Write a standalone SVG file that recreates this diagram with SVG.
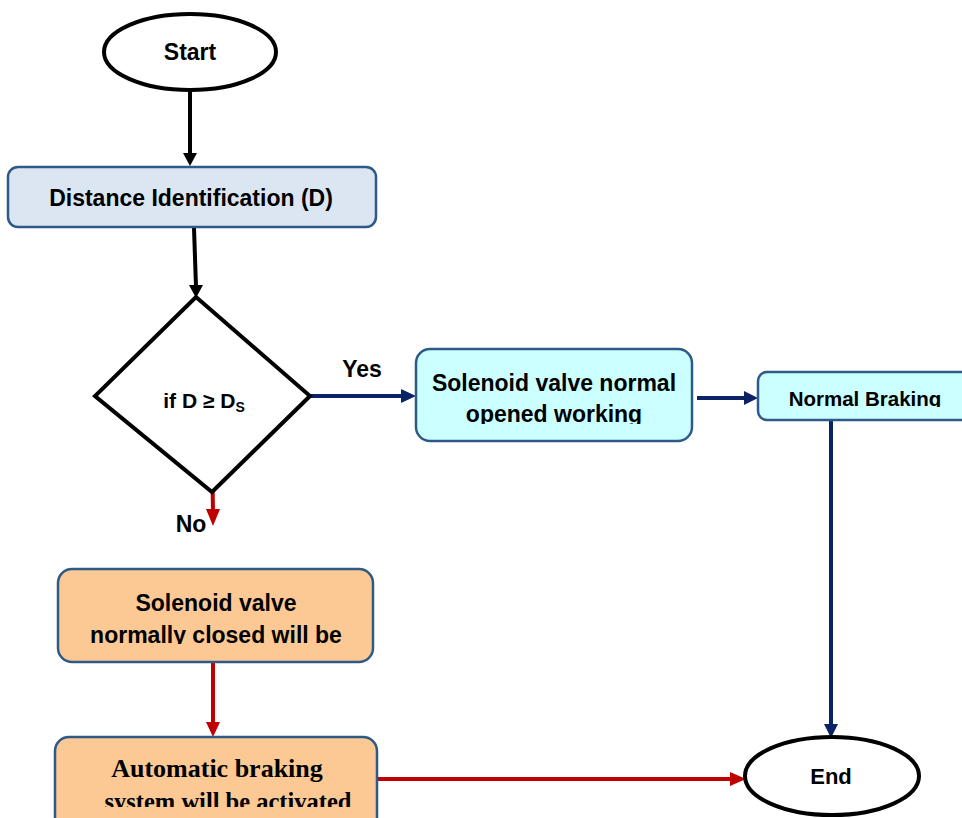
<svg xmlns="http://www.w3.org/2000/svg" width="962" height="818" viewBox="0 0 962 818">
<style>
.t{font-family:"Liberation Sans",Arial,sans-serif;font-weight:bold;fill:#000;text-anchor:middle}
.ts{font-family:"Liberation Serif","Times New Roman",serif;font-weight:bold;fill:#000;text-anchor:middle}
.term{fill:#fff;stroke:#000;stroke-width:4}
.box{stroke:#2e5a87;stroke-width:2.5}
.blk{stroke:#000;stroke-width:4;fill:none}
.nav{stroke:#0b2266;stroke-width:4;fill:none}
.red{stroke:#c00000;stroke-width:4;fill:none}
</style>
<defs>
<clipPath id="c1"><rect x="416" y="349" width="276" height="75"/></clipPath>
<clipPath id="c2"><rect x="758" y="372" width="210" height="35"/></clipPath>
<clipPath id="c3"><rect x="58" y="569" width="315" height="75"/></clipPath>
<clipPath id="c4"><rect x="55" y="737" width="322" height="70"/></clipPath>
</defs>
<rect width="962" height="818" fill="#fff"/>

<g id="connectors">
  <line class="blk" x1="190" y1="90" x2="190" y2="155"/>
  <path d="M183,153 L197,153 L190,166 Z" fill="#000"/>
  <line class="blk" x1="194" y1="228" x2="196" y2="287"/>
  <path d="M189,285 L203,285 L196,298 Z" fill="#000"/>
  <line class="nav" x1="311" y1="396" x2="404" y2="396"/>
  <path d="M401,389 L401,403 L416,396 Z" fill="#0b2266"/>
  <line class="nav" x1="697" y1="398" x2="746" y2="398"/>
  <path d="M744,391 L744,405 L758,398 Z" fill="#0b2266"/>
  <line class="nav" x1="831" y1="420" x2="831" y2="726"/>
  <path d="M824,724 L838,724 L831,738 Z" fill="#0b2266"/>
  <line class="red" x1="212" y1="452" x2="213" y2="511"/>
  <path d="M206,509 L220,509 L213,526 Z" fill="#c00000"/>
  <line class="red" x1="213" y1="663" x2="213" y2="724"/>
  <path d="M206,722 L220,722 L213,737 Z" fill="#c00000"/>
  <line class="red" x1="378" y1="779" x2="732" y2="779"/>
  <path d="M730,772 L730,786 L746,779 Z" fill="#c00000"/>
  <text class="t" x="362" y="377" font-size="23">Yes</text>
  <text class="t" x="191" y="532" font-size="23">No</text>
</g>

<g id="start">
  <ellipse class="term" cx="190" cy="52" rx="86" ry="38"/>
  <text class="t" x="190" y="60" font-size="23">Start</text>
</g>

<g id="distance">
  <rect class="box" x="8" y="167" width="368" height="60" rx="10" fill="#dce6f2"/>
  <text class="t" x="191" y="206" font-size="23">Distance Identification (D)</text>
</g>

<g id="decision">
  <path d="M196,297 L310,396 L212,492 L95,396 Z" fill="#fff" stroke="#000" stroke-width="4" stroke-linejoin="miter"/>
  <text class="t" x="204" y="408" font-size="21">if D ≥ D<tspan font-size="14" dy="4">S</tspan></text>
</g>

<g id="solenoid-open">
  <rect class="box" x="416" y="349" width="276" height="92" rx="14" fill="#ccffff"/>
  <g clip-path="url(#c1)">
    <text class="t" x="554" y="391" font-size="23">Solenoid valve normal</text>
    <text class="t" x="554" y="422" font-size="23">opened working</text>
  </g>
</g>

<g id="normal-braking">
  <rect class="box" x="758" y="372" width="215" height="48" rx="9" fill="#ccffff"/>
  <g clip-path="url(#c2)">
    <text class="t" x="865" y="406" font-size="20.5">Normal Braking</text>
  </g>
</g>

<g id="solenoid-closed">
  <rect class="box" x="58" y="569" width="315" height="93" rx="14" fill="#fcc994"/>
  <g clip-path="url(#c3)">
    <text class="t" x="216" y="611" font-size="23">Solenoid valve</text>
    <text class="t" x="216" y="643" font-size="23">normally closed will be</text>
  </g>
</g>

<g id="automatic-braking">
  <rect class="box" x="55" y="737" width="322" height="95" rx="14" fill="#fcc994"/>
  <g clip-path="url(#c4)">
    <text class="ts" x="217" y="777" font-size="26">Automatic braking</text>
    <text class="ts" x="228" y="810" font-size="24.5">system will be activated</text>
  </g>
</g>

<g id="end">
  <ellipse class="term" cx="832" cy="776" rx="87" ry="39"/>
  <text class="t" x="831" y="784" font-size="22">End</text>
</g>
</svg>
